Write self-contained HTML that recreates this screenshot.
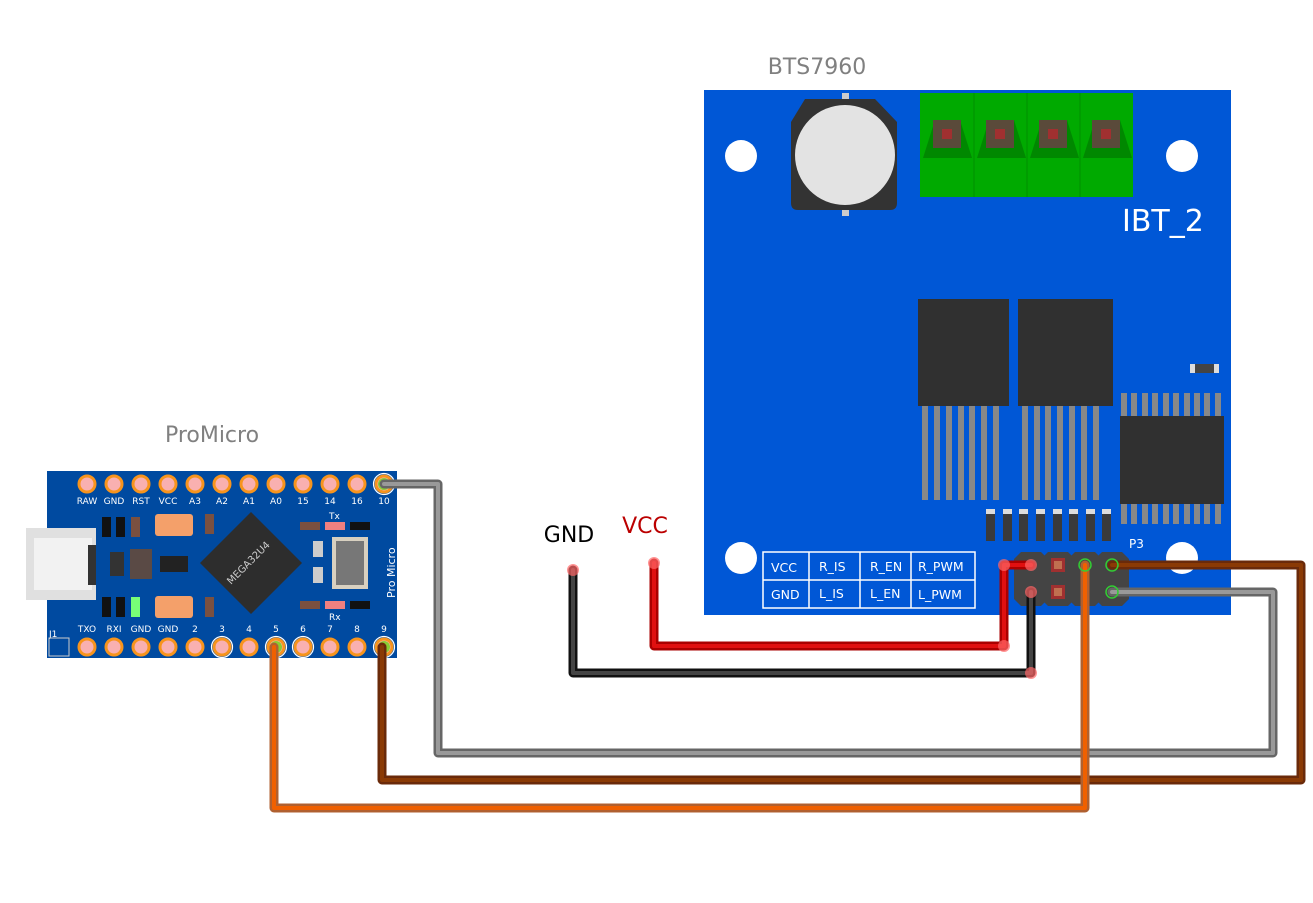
<!DOCTYPE html>
<html><head><meta charset="utf-8"><style>
html,body{margin:0;padding:0;background:#fff}
svg{display:block}
text{font-family:"DejaVu Sans","Liberation Sans",sans-serif}
</style></head><body>
<svg width="1313" height="903" viewBox="0 0 1313 903" xmlns="http://www.w3.org/2000/svg">
<rect width="1313" height="903" fill="#fff"/>
<text x="817" y="74" font-size="22" fill="#808080" text-anchor="middle">BTS7960</text>
<rect x="704" y="90" width="527" height="525" fill="#0057d6"/>
<circle cx="741" cy="156" r="16" fill="#fff"/>
<circle cx="1182" cy="156" r="16" fill="#fff"/>
<circle cx="741" cy="558" r="16" fill="#fff"/>
<circle cx="1182" cy="558" r="16" fill="#fff"/>
<rect x="842" y="93" width="7" height="8" fill="#ccc"/>
<rect x="842" y="208" width="7" height="8" fill="#ccc"/>
<path d="M805 99 H875 L897 122 V203 Q897 210 890 210 H798 Q791 210 791 203 V122 Z" fill="#333"/>
<circle cx="845" cy="155" r="50" fill="#e3e3e3"/>
<rect x="920" y="93" width="213" height="104" fill="#00aa00"/>
<g fill="#008800">
<path d="M923 158 L935 120 H960 L972 158Z"/><path d="M977 158 L989 120 H1014 L1026 158Z"/>
<path d="M1030 158 L1042 120 H1067 L1079 158Z"/><path d="M1083 158 L1095 120 H1120 L1132 158Z"/>
</g>
<g stroke="#009000" stroke-width="1"><line x1="974" y1="93" x2="974" y2="197"/><line x1="1027" y1="93" x2="1027" y2="197"/><line x1="1080" y1="93" x2="1080" y2="197"/></g>
<g fill="#5a4a3a"><rect x="933" y="120" width="28" height="28"/><rect x="986" y="120" width="28" height="28"/><rect x="1039" y="120" width="28" height="28"/><rect x="1092" y="120" width="28" height="28"/></g>
<g fill="#a03030"><rect x="942" y="129" width="10" height="10"/><rect x="995" y="129" width="10" height="10"/><rect x="1048" y="129" width="10" height="10"/><rect x="1101" y="129" width="10" height="10"/></g>
<text x="1122" y="231" font-size="30" fill="#fff">IBT_2</text>
<g fill="#888">
<rect x="922" y="406" width="6" height="94"/><rect x="934" y="406" width="6" height="94"/><rect x="946" y="406" width="6" height="94"/><rect x="958" y="406" width="6" height="94"/><rect x="969" y="406" width="6" height="94"/><rect x="981" y="406" width="6" height="94"/><rect x="993" y="406" width="6" height="94"/>
<rect x="1022" y="406" width="6" height="94"/><rect x="1034" y="406" width="6" height="94"/><rect x="1045" y="406" width="6" height="94"/><rect x="1057" y="406" width="6" height="94"/><rect x="1069" y="406" width="6" height="94"/><rect x="1081" y="406" width="6" height="94"/><rect x="1093" y="406" width="6" height="94"/>
</g>
<rect x="918" y="299" width="91" height="107" fill="#303030"/>
<rect x="1018" y="299" width="95" height="107" fill="#303030"/>
<g fill="#888">
<rect x="1121" y="393" width="6" height="131"/><rect x="1131" y="393" width="6" height="131"/><rect x="1142" y="393" width="6" height="131"/><rect x="1152" y="393" width="6" height="131"/><rect x="1163" y="393" width="6" height="131"/><rect x="1173" y="393" width="6" height="131"/><rect x="1184" y="393" width="6" height="131"/><rect x="1194" y="393" width="6" height="131"/><rect x="1204" y="393" width="6" height="131"/><rect x="1215" y="393" width="6" height="131"/>
</g>
<rect x="1120" y="416" width="104" height="88" fill="#303030"/>
<rect x="1190" y="364" width="29" height="9" fill="#444"/><rect x="1190" y="364" width="5" height="9" fill="#ddd"/><rect x="1214" y="364" width="5" height="9" fill="#ddd"/>
<g fill="#3a3a3a">
<rect x="986" y="509" width="9" height="32"/><rect x="1003" y="509" width="9" height="32"/><rect x="1019" y="509" width="9" height="32"/><rect x="1036" y="509" width="9" height="32"/><rect x="1053" y="509" width="9" height="32"/><rect x="1069" y="509" width="9" height="32"/><rect x="1086" y="509" width="9" height="32"/><rect x="1102" y="509" width="9" height="32"/>
</g>
<g fill="#ddd">
<rect x="986" y="509" width="9" height="5"/><rect x="1003" y="509" width="9" height="5"/><rect x="1019" y="509" width="9" height="5"/><rect x="1036" y="509" width="9" height="5"/><rect x="1053" y="509" width="9" height="5"/><rect x="1069" y="509" width="9" height="5"/><rect x="1086" y="509" width="9" height="5"/><rect x="1102" y="509" width="9" height="5"/>
</g>
<g stroke="#fff" stroke-width="1.5" fill="none">
<rect x="763" y="552" width="212" height="56"/>
<line x1="763" y1="580" x2="975" y2="580"/>
<line x1="809" y1="552" x2="809" y2="608"/><line x1="860" y1="552" x2="860" y2="608"/><line x1="911" y1="552" x2="911" y2="608"/>
</g>
<g fill="#fff" font-size="12.5">
<text x="771" y="572">VCC</text><text x="819" y="571">R_IS</text><text x="870" y="571">R_EN</text><text x="918" y="571">R_PWM</text>
<text x="771" y="599">GND</text><text x="819" y="598">L_IS</text><text x="870" y="598">L_EN</text><text x="918" y="599">L_PWM</text>
</g>
<text x="1129" y="548" font-size="12" fill="#fff">P3</text>
<g fill="#444">
<path d="M1021 552 h20 l7 7 v40 l-7 7 h-20 l-7 -7 v-40z"/>
<path d="M1048 552 h20 l7 7 v40 l-7 7 h-20 l-7 -7 v-40z"/>
<path d="M1075 552 h20 l7 7 v40 l-7 7 h-20 l-7 -7 v-40z"/>
<path d="M1102 552 h20 l7 7 v40 l-7 7 h-20 l-7 -7 v-40z"/>
</g>
<g fill="#a03030"><rect x="1051" y="558" width="14" height="14"/><rect x="1051" y="585" width="14" height="14"/></g>
<g fill="#c07050"><rect x="1054" y="561" width="8" height="8"/><rect x="1054" y="588" width="8" height="8"/></g>
<text x="212" y="442" font-size="22" fill="#808080" text-anchor="middle">ProMicro</text>
<rect x="47" y="471" width="350" height="187" fill="#004aa0"/>
<rect x="26" y="528" width="70" height="72" fill="#e0e0e0"/>
<rect x="34" y="538" width="58" height="52" fill="#f2f2f2"/>
<rect x="88" y="545" width="8" height="40" fill="#333"/>
<g fill="#111"><rect x="102" y="517" width="9" height="20"/><rect x="116" y="517" width="9" height="20"/><rect x="102" y="597" width="9" height="20"/><rect x="116" y="597" width="9" height="20"/></g>
<rect x="131" y="517" width="9" height="20" fill="#7a5040"/><rect x="205" y="514" width="9" height="20" fill="#7a5040"/><rect x="205" y="597" width="9" height="20" fill="#7a5040"/>
<rect x="131" y="597" width="9" height="20" fill="#7f7"/>
<rect x="155" y="514" width="38" height="22" rx="3" fill="#f4a06a"/>
<rect x="155" y="596" width="38" height="22" rx="3" fill="#f4a06a"/>
<rect x="110" y="552" width="14" height="24" fill="#333"/>
<rect x="130" y="549" width="22" height="30" fill="#5a4a45"/>
<rect x="160" y="556" width="28" height="16" fill="#222"/>
<polygon points="251,512 302,563 251,614 200,563" fill="#2d2d2d"/>
<text x="0" y="0" font-size="10" fill="#ccc" transform="translate(231,585) rotate(-45)">MEGA32U4</text>
<rect x="332" y="537" width="36" height="52" fill="#d8d0c0"/><rect x="336" y="541" width="28" height="44" fill="#777"/>
<rect x="313" y="541" width="10" height="16" fill="#ccc"/><rect x="313" y="567" width="10" height="16" fill="#ccc"/>
<rect x="300" y="522" width="20" height="8" fill="#7a5040"/><rect x="325" y="522" width="20" height="8" fill="#f08080"/><rect x="350" y="522" width="20" height="8" fill="#111"/>
<rect x="300" y="601" width="20" height="8" fill="#7a5040"/><rect x="325" y="601" width="20" height="8" fill="#f08080"/><rect x="350" y="601" width="20" height="8" fill="#111"/>
<text x="329" y="519" font-size="9" fill="#fff">Tx</text><text x="329" y="620" font-size="9" fill="#fff">Rx</text>
<text x="0" y="0" font-size="11" fill="#fff" transform="translate(395,598) rotate(-90)">Pro Micro</text>
<text x="49" y="637" font-size="9" fill="#fff">J1</text>
<rect x="49" y="638" width="20" height="18" fill="none" stroke="#ccc"/>
<g fill="#fff" font-size="9" text-anchor="middle" font-family="Liberation Mono,monospace">
<text x="87" y="504">RAW</text><text x="114" y="504">GND</text><text x="141" y="504">RST</text><text x="168" y="504">VCC</text><text x="195" y="504">A3</text><text x="222" y="504">A2</text><text x="249" y="504">A1</text><text x="276" y="504">A0</text><text x="303" y="504">15</text><text x="330" y="504">14</text><text x="357" y="504">16</text><text x="384" y="504">10</text>
<text x="87" y="632">TXO</text><text x="114" y="632">RXI</text><text x="141" y="632">GND</text><text x="168" y="632">GND</text><text x="195" y="632">2</text><text x="222" y="632">3</text><text x="249" y="632">4</text><text x="276" y="632">5</text><text x="303" y="632">6</text><text x="330" y="632">7</text><text x="357" y="632">8</text><text x="384" y="632">9</text>
</g>
<g fill="#f9b0b0" stroke="#f7941d" stroke-width="3">
<circle cx="87" cy="484" r="8"/><circle cx="114" cy="484" r="8"/><circle cx="141" cy="484" r="8"/><circle cx="168" cy="484" r="8"/><circle cx="195" cy="484" r="8"/><circle cx="222" cy="484" r="8"/><circle cx="249" cy="484" r="8"/><circle cx="276" cy="484" r="8"/><circle cx="303" cy="484" r="8"/><circle cx="330" cy="484" r="8"/><circle cx="357" cy="484" r="8"/><circle cx="384" cy="484" r="8"/>
<circle cx="87" cy="647" r="8"/><circle cx="114" cy="647" r="8"/><circle cx="141" cy="647" r="8"/><circle cx="168" cy="647" r="8"/><circle cx="195" cy="647" r="8"/><circle cx="222" cy="647" r="8"/><circle cx="249" cy="647" r="8"/><circle cx="276" cy="647" r="8"/><circle cx="303" cy="647" r="8"/><circle cx="330" cy="647" r="8"/><circle cx="357" cy="647" r="8"/><circle cx="384" cy="647" r="8"/>
</g>
<g fill="none" stroke="#fff" stroke-width="1.2"><circle cx="384" cy="484" r="10.5"/><circle cx="222" cy="647" r="10.5"/><circle cx="276" cy="647" r="10.5"/><circle cx="303" cy="647" r="10.5"/><circle cx="384" cy="647" r="10.5"/></g>
<g fill="#8c3"><circle cx="384" cy="484" r="6"/><circle cx="276" cy="647" r="6"/><circle cx="384" cy="647" r="6"/></g>
<text x="569" y="542" font-size="22" fill="#000" text-anchor="middle">GND</text>
<text x="645" y="533" font-size="22" fill="#b00" text-anchor="middle">VCC</text>
<g fill="none" stroke-linejoin="round" stroke-linecap="round">
<polyline points="384,484 438,484 438,753 1273,753 1273,592 1112,592" stroke="#666" stroke-width="9"/>
<polyline points="384,484 438,484 438,753 1273,753 1273,592 1112,592" stroke="#999" stroke-width="4"/>
<polyline points="382,647 382,780 1301,780 1301,565 1112,565" stroke="#6a2a0a" stroke-width="9"/>
<polyline points="382,647 382,780 1301,780 1301,565 1112,565" stroke="#8a3a05" stroke-width="4"/>
<polyline points="274,647 274,808 1085,808 1085,565" stroke="#b06030" stroke-width="9"/>
<polyline points="274,647 274,808 1085,808 1085,565" stroke="#f06000" stroke-width="4"/>
<polyline points="573,570 573,673 1031,673 1031,592" stroke="#111" stroke-width="9"/>
<polyline points="573,570 573,673 1031,673 1031,592" stroke="#444" stroke-width="4"/>
<polyline points="654,563 654,646 1004,646 1004,565 1031,565" stroke="#a00" stroke-width="9"/>
<polyline points="654,563 654,646 1004,646 1004,565 1031,565" stroke="#e01010" stroke-width="4"/>
</g>
<g fill="#f66" opacity="0.7"><circle cx="573" cy="570" r="6"/><circle cx="654" cy="563" r="6"/><circle cx="1004" cy="646" r="6"/><circle cx="1031" cy="673" r="6"/><circle cx="1004" cy="565" r="6"/><circle cx="1031" cy="565" r="6"/><circle cx="1031" cy="592" r="6"/></g>
<g fill="none" stroke="#3c3" stroke-width="1.5"><circle cx="1085" cy="565" r="6"/><circle cx="1112" cy="565" r="6"/><circle cx="1112" cy="592" r="6"/></g>
</svg>
</body></html>
